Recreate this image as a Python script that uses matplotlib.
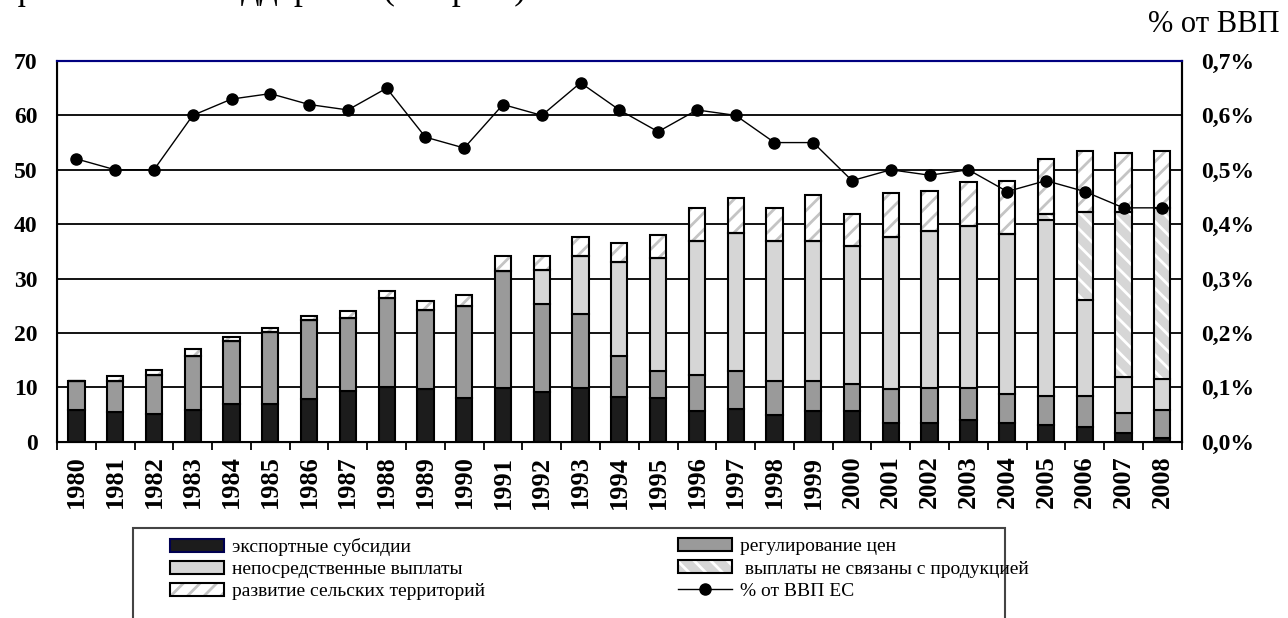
import matplotlib
matplotlib.use('Agg')
import matplotlib.pyplot as plt
import numpy as np
from matplotlib.patches import Patch, Rectangle
from matplotlib.lines import Line2D
from matplotlib.legend_handler import HandlerTuple

years = [str(y) for y in range(1980, 2009)]

# млрд евро, по сегментам столбца (снизу вверх)
export_subsidies = [5.8, 5.4, 5.1, 5.8, 7.0, 7.0, 7.8, 9.3, 10.1, 9.7, 8.1, 9.8, 9.2, 9.8, 8.3,
                    8.0, 5.7, 6.1, 5.0, 5.7, 5.7, 3.4, 3.4, 3.9, 3.4, 3.1, 2.7, 1.6, 0.7]
price_support = [5.4, 5.7, 7.2, 10.0, 11.5, 13.1, 14.5, 13.4, 16.4, 14.5, 16.9, 21.6, 16.1, 13.6, 7.4,
                 5.0, 6.5, 6.9, 6.1, 5.4, 4.9, 6.2, 6.5, 6.0, 5.4, 5.3, 5.7, 3.7, 5.1]
direct_payments = [0, 0, 0, 0, 0, 0, 0, 0, 0, 0, 0, 0, 6.3, 10.7, 17.3,
                   20.8, 24.7, 25.4, 25.8, 25.8, 25.4, 28.0, 28.9, 29.8, 29.3, 32.4, 17.6, 6.6, 5.7]
decoupled_payments = [0, 0, 0, 0, 0, 0, 0, 0, 0, 0, 0, 0, 0, 0, 0,
                      0, 0, 0, 0, 0, 0, 0, 0, 0, 0, 1.0, 16.3, 30.3, 31.5]
rural_development = [0, 0.9, 0.9, 1.3, 0.8, 0.8, 0.9, 1.3, 1.3, 1.6, 2.0, 2.7, 2.5, 3.5, 3.5,
                     4.2, 6.0, 6.5, 6.0, 8.4, 5.8, 8.1, 7.3, 8.0, 9.9, 10.1, 11.2, 10.9, 10.5]
# % от ВВП ЕС
gdp_share = [0.52, 0.50, 0.50, 0.60, 0.63, 0.64, 0.62, 0.61, 0.65, 0.56, 0.54, 0.62, 0.60, 0.66, 0.61,
             0.57, 0.61, 0.60, 0.55, 0.55, 0.48, 0.50, 0.49, 0.50, 0.46, 0.48, 0.46, 0.43, 0.43]

left_ticks = [0, 10, 20, 30, 40, 50, 60, 70]
right_ticks = [0.0, 0.1, 0.2, 0.3, 0.4, 0.5, 0.6, 0.7]
right_labels = ['0,0%', '0,1%', '0,2%', '0,3%', '0,4%', '0,5%', '0,6%', '0,7%']

labels_col1 = ['экспортные субсидии', 'непосредственные выплаты', 'развитие сельских территорий']
labels_col2 = ['регулирование цен', ' выплаты не связаны с продукцией', '% от ВВП ЕС']

plt.rcParams['font.family'] = ['Liberation Serif', 'DejaVu Serif']
plt.rcParams['hatch.linewidth'] = 2.0

W, H = 1288, 618
fig = plt.figure(figsize=(W / 100, H / 100), dpi=100)
ax = fig.add_axes([57 / W, 1 - 441.7 / H, (1181.7 - 57) / W, (441.7 - 61) / H])

BLACK = '#1c1c1c'
DARK = '#9a9a9a'
LIGHT = '#d6d6d6'
x = np.arange(len(years))
bw = 0.42
bottom = np.zeros(len(years))
layers = [(export_subsidies, BLACK, None, None),
          (price_support, DARK, None, None),
          (direct_payments, LIGHT, None, None),
          (decoupled_payments, LIGHT, '\\\\', 'white'),
          (rural_development, 'white', '//', '#c4c4c4')]
for vals, face, hatch, hcol in layers:
    vals = np.array(vals, dtype=float)
    if hatch:
        ax.bar(x, vals, bw, bottom=bottom, color=face, edgecolor=hcol, hatch=hatch, lw=0, zorder=2)
        ax.bar(x, vals, bw, bottom=bottom, fill=False, edgecolor='black', lw=1.5, zorder=3)
    else:
        ax.bar(x, vals, bw, bottom=bottom, color=face, edgecolor='black', lw=1.5, zorder=2)
    bottom += vals

ax.set_xlim(-0.5, len(years) - 0.5)
ax.set_ylim(0, 70)
ax.set_yticks(left_ticks)
ax.set_yticklabels([str(t) for t in left_ticks], fontsize=17, fontweight='bold')
ax.tick_params(axis='y', length=0, pad=14)
ax.yaxis.grid(True, color='black', lw=1.3)
ax.set_axisbelow(True)

ax.set_xticks(x)
ax.set_xticklabels(years, rotation=90, fontsize=19, fontweight='bold')
ax.tick_params(axis='x', which='major', length=0, pad=10)
ax.set_xticks(np.arange(-0.5, len(years), 1), minor=True)
ax.tick_params(axis='x', which='minor', length=6, width=1.3, direction='out')

for s in ['left', 'right', 'bottom']:
    ax.spines[s].set_linewidth(1.5)
ax.spines['top'].set_color('#000080')
ax.spines['top'].set_linewidth(1.5)

ax2 = ax.twinx()
ax2.plot(x, gdp_share, color='black', lw=1, marker='o', ms=8, zorder=5)
ax2.set_ylim(0, 0.7)
ax2.set_yticks(right_ticks)
ax2.set_yticklabels(right_labels, fontsize=17, fontweight='bold')
ax2.tick_params(axis='y', length=0, pad=14)
ax2.spines['top'].set_color('#000080')
ax2.spines['top'].set_linewidth(1.5)
ax2.spines['right'].set_linewidth(1.5)

fig.text(1148 / W, 1 - 24 / H, '% от ВВП', fontsize=22, va='center', ha='left')
# the line of body text above the chart is cut by the image edge in the source
fig.text(10 / W, 1 + 1 / H, 'финансовой поддержки (см. рис.).', fontsize=26, va='baseline', ha='left')

# legend
h_exp = Patch(facecolor=BLACK, edgecolor='#000050', lw=1.5)
h_price = Patch(facecolor=DARK, edgecolor='black', lw=1.5)
h_direct = Patch(facecolor=LIGHT, edgecolor='black', lw=1.5)
h_dec = (Patch(facecolor=LIGHT, edgecolor='white', hatch='\\\\', lw=0),
         Patch(fill=False, edgecolor='black', lw=1.5))
h_rural = (Patch(facecolor='white', edgecolor='#c4c4c4', hatch='//', lw=0),
           Patch(fill=False, edgecolor='black', lw=1.5))
h_line = Line2D([], [], color='black', marker='o', ms=8, lw=1)

leg_kw = dict(loc='upper left', frameon=False, fontsize=14, handlelength=2.8, handleheight=0.65,
              handletextpad=0.4, labelspacing=0.25, borderpad=0, borderaxespad=0,
              handler_map={tuple: HandlerTuple(ndivide=1, pad=0)})
fig.legend([h_exp, h_direct, h_rural], labels_col1, bbox_to_anchor=(170 / W, 1 - 538 / H), **leg_kw)
fig.legend([h_price, h_dec, h_line], labels_col2, bbox_to_anchor=(678 / W, 1 - 538 / H), **leg_kw)
fig.patches.append(Rectangle((133 / W, -0.1), (1005 - 133) / W, 0.1 + 1 - 528 / H,
                             transform=fig.transFigure, fill=False, edgecolor='#444444', lw=1.5))

fig.savefig('out.png', dpi=100)
